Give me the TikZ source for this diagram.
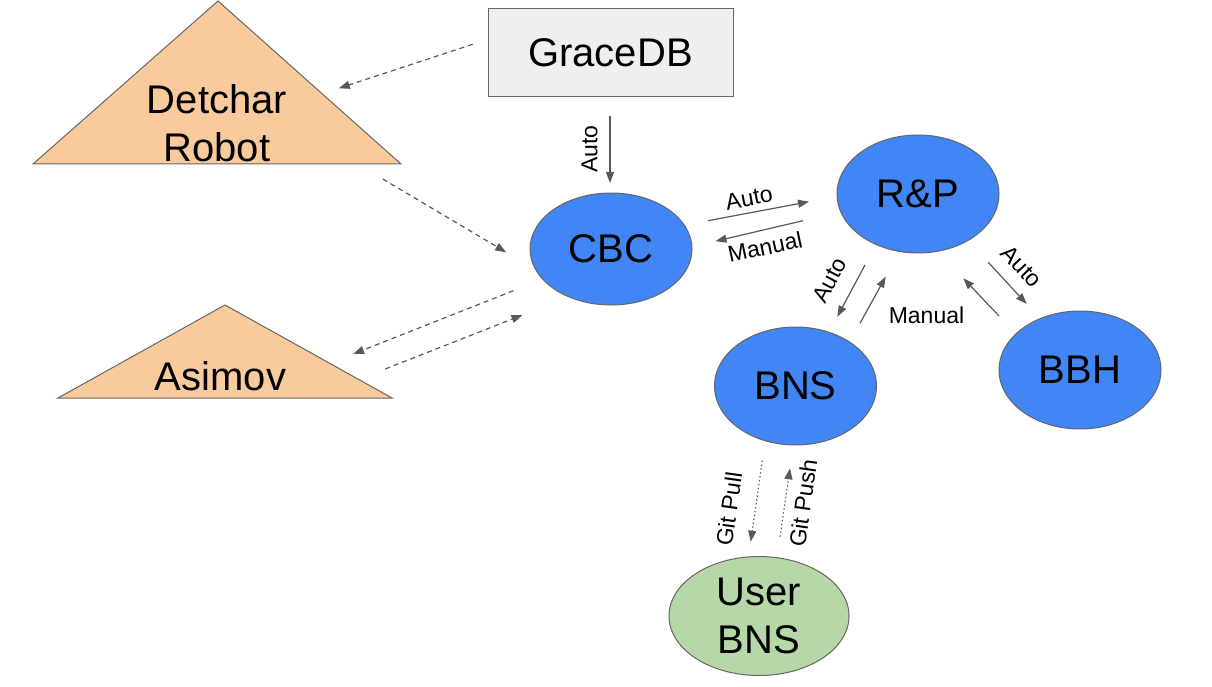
\documentclass[tikz,border=0pt]{standalone}
\usepackage{fontspec}
\setmainfont{Liberation Sans}
\usetikzlibrary{arrows.meta,shapes.geometric}
\definecolor{gblue}{HTML}{4285F4}
\definecolor{ggreen}{HTML}{B6D7A8}
\definecolor{gorange}{HTML}{F9CB9C}
\definecolor{gbox}{HTML}{EFEFEF}
\definecolor{gline}{HTML}{595959}
\definecolor{gedge}{HTML}{666666}
\begin{document}
\begin{tikzpicture}[x=1pt,y=-1pt,
  bigtxt/.style={font=\fontsize{40}{48}\selectfont},
  ell/.style={ellipse, draw=gedge, line width=1pt, inner sep=0pt, bigtxt, align=center},
  blueell/.style={ell, fill=gblue},
  greenell/.style={ell, fill=ggreen},
  tri/.style={fill=gorange, draw=gedge, line width=1pt, line join=miter},
  lbl/.style={font=\fontsize{23}{27}\selectfont, inner sep=0pt},
  arr/.style={draw=gline, line width=1.2pt, -{Triangle[length=11pt,width=8pt]}},
  dasharr/.style={arr, dash pattern=on 5pt off 4pt},
  dotarr/.style={arr, dash pattern=on 1.3pt off 2.6pt},
]
\useasboundingbox (0,0) rectangle (1212,687);
\fill[white] (0,0) rectangle (1212,687);

% triangles
\draw[tri] (218,1) -- (401,164) -- (33,164) -- cycle;
\draw[tri] (225,305) -- (392,398) -- (58,398) -- cycle;
\node[bigtxt, align=center, inner sep=0pt] (detchar) at (217,123) {Detchar\\Robot};
\node[bigtxt, anchor=base, inner sep=0pt] (asimov) at (220.5,390) {Asimov};

% GraceDB box
\node[draw=gedge, fill=gbox, line width=1pt, bigtxt, minimum width=245pt, minimum height=88pt, inner sep=0pt] (gracedb) at (610.5,53) {GraceDB};

% ellipses
\node[blueell, minimum width=162pt, minimum height=112pt] (cbc) at (611,249) {CBC};
\node[blueell, minimum width=162pt, minimum height=118pt] (rp) at (918,194) {R\&P};
\node[blueell, minimum width=162pt, minimum height=118pt] (bns) at (795.5,386) {BNS};
\node[blueell, minimum width=162pt, minimum height=118pt] (bbh) at (1080,370) {BBH};
\node[greenell, minimum width=180pt, minimum height=119pt] (user) at (759,616) {User\\BNS};

% connector end points
\coordinate (a1s) at (610,116);     \coordinate (a1e) at (610,183);
\coordinate (a2s) at (708,220.7);   \coordinate (a2e) at (809,201.7);
\coordinate (a3s) at (803,220.7);   \coordinate (a3e) at (715.5,241.2);
\coordinate (a4s) at (865,265);     \coordinate (a4e) at (837.3,316.7);
\coordinate (a5s) at (860,323.3);   \coordinate (a5e) at (885.7,276.7);
\coordinate (a6s) at (999,316);     \coordinate (a6e) at (963.3,278.3);
\coordinate (a7s) at (988.3,262.3); \coordinate (a7e) at (1026.7,304);
\coordinate (a8s) at (762.3,460.7); \coordinate (a8e) at (750.7,541.7);
\coordinate (a9s) at (780,536.7);   \coordinate (a9e) at (790,468.3);
\coordinate (d1s) at (472.7,44.3);  \coordinate (d1e) at (338.8,88.3);
\coordinate (d2s) at (382.8,179);   \coordinate (d2e) at (506.2,252.3);
\coordinate (d3s) at (513.4,290.7); \coordinate (d3e) at (353.1,354);
\coordinate (d4s) at (385.2,369);   \coordinate (d4e) at (522.5,315);

% solid connectors
\draw[arr] (a1s) -- (a1e);
\draw[arr] (a2s) -- (a2e);
\draw[arr] (a3s) -- (a3e);
\draw[arr] (a4s) -- (a4e);
\draw[arr] (a5s) -- (a5e);
\draw[arr] (a6s) -- (a6e);
\draw[arr] (a7s) -- (a7e);
% dotted connectors
\draw[dotarr] (a8s) -- (a8e);
\draw[dotarr] (a9s) -- (a9e);
% dashed connectors
\draw[dasharr] (d1s) -- (d1e);
\draw[dasharr] (d2s) -- (d2e);
\draw[dasharr] (d3s) -- (d3e);
\draw[dasharr] (d4s) -- (d4e);

% labels
\node[lbl, rotate=90] (l1) at (589.5,149) {Auto};
\node[lbl, rotate=10.6] (l2) at (749,198) {Auto};
\node[lbl, rotate=12] (l3) at (765,247) {Manual};
\node[lbl, rotate=62] (l4) at (830,280) {Auto};
\node[lbl] (l5) at (926.5,315.3) {Manual};
\node[lbl, rotate=-47] (l6) at (1021.7,266.7) {Auto};
\node[lbl, rotate=82] (l7) at (729,509) {Git Pull};
\node[lbl, rotate=82] (l8) at (803,503) {Git Push};
\end{tikzpicture}
\end{document}
